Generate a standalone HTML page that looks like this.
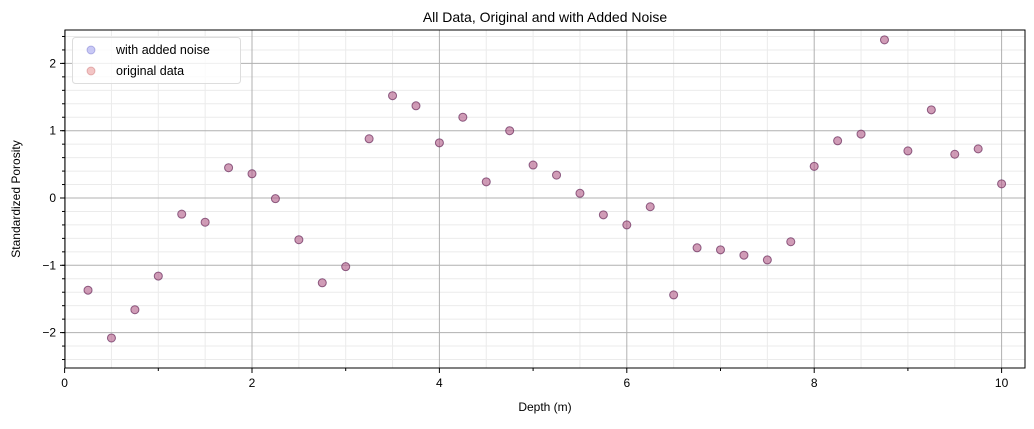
<!DOCTYPE html>
<html><head><meta charset="utf-8"><style>
body{margin:0;background:#fff;font-family:"Liberation Sans","DejaVu Sans",sans-serif}
</style></head><body>
<svg id="c" width="1034" height="424" xmlns="http://www.w3.org/2000/svg"></svg>
<script>
const depths=[0.25,0.5,0.75,1,1.25,1.5,1.75,2,2.25,2.5,2.75,3,3.25,3.5,3.75,4,4.25,4.5,4.75,5,5.25,5.5,5.75,6,6.25,6.5,6.75,7,7.25,7.5,7.75,8,8.25,8.5,8.75,9,9.25,9.5,9.75,10];
const noisy=[-1.37,-2.08,-1.66,-1.16,-0.24,-0.36,0.45,0.36,-0.01,-0.62,-1.26,-1.02,0.88,1.52,1.37,0.82,1.2,0.24,1.0,0.49,0.34,0.07,-0.25,-0.4,-0.13,-1.44,-0.74,-0.77,-0.85,-0.92,-0.65,0.47,0.85,0.95,2.35,0.7,1.31,0.65,0.73,0.21];
const original=noisy.slice();
const xTicks=[0,2,4,6,8,10];
const yTicks=[-2,-1,0,1,2];
const NS="http://www.w3.org/2000/svg",svg=document.getElementById('c');
const L=65,R=1025,T=30,B=368;
const X=v=>64.6+v*93.7, Y=v=>198-v*67.3;
function el(t,a,p){const e=document.createElementNS(NS,t);for(const k in a)e.setAttribute(k,a[k]);(p||svg).appendChild(e);return e;}
const g=el('g',{});
for(let v=0.5;v<10.3;v+=0.5){if(Math.abs(v%2)<1e-6)continue;el('line',{x1:X(v),x2:X(v),y1:T,y2:B,stroke:'#ebebeb','stroke-width':1},g);}
for(let v=-2.4;v<2.5;v+=0.2){if(Math.abs(Math.round(v)-v)<1e-6)continue;el('line',{x1:L,x2:R,y1:Y(v),y2:Y(v),stroke:'#ebebeb','stroke-width':1},g);}
xTicks.forEach(v=>el('line',{x1:X(v),x2:X(v),y1:T,y2:B,stroke:'#b0b0b0','stroke-width':1},g));
yTicks.forEach(v=>el('line',{x1:L,x2:R,y1:Y(v),y2:Y(v),stroke:'#b0b0b0','stroke-width':1},g));
// ticks
for(let v=1;v<10.3;v+=2){el('line',{x1:X(v),x2:X(v),y1:B,y2:B+3,stroke:'#000'});}
for(let v=-2.4;v<2.5;v+=0.2){el('line',{x1:L,x2:L-3,y1:Y(v),y2:Y(v),stroke:'#000'});}
xTicks.forEach(v=>{el('line',{x1:X(v),x2:X(v),y1:B,y2:B+5,stroke:'#000'});const t=el('text',{x:X(v),y:B+19,'font-size':12,'text-anchor':'middle'});t.textContent=v;});
yTicks.forEach(v=>{el('line',{x1:L,x2:L-5,y1:Y(v),y2:Y(v),stroke:'#000'});const t=el('text',{x:L-9,y:Y(v)+4,'font-size':12,'text-anchor':'end'});t.textContent=v<0?'\u2212'+(-v):v;});
// points
depths.forEach((d,i)=>{const c=el('circle',{cx:X(d),cy:Y(noisy[i]),r:4,fill:'rgba(100,100,230,0.35)',stroke:'rgba(60,60,180,0.45)'});});
depths.forEach((d,i)=>{const c=el('circle',{cx:X(d),cy:Y(original[i]),r:4,fill:'rgba(220,90,90,0.4)',stroke:'rgba(120,40,60,0.5)'});});
const fr=el('rect',{x:L,y:T,width:R-L,height:B-T,fill:'none',stroke:'#000','stroke-width':1});
const ti=el('text',{x:(L+R)/2,y:22,'font-size':14,'text-anchor':'middle'});ti.textContent='All Data, Original and with Added Noise';
const xl=el('text',{x:(L+R)/2,y:411,'font-size':12,'text-anchor':'middle'});xl.textContent='Depth (m)';
const yl=el('text',{x:0,y:0,'font-size':12,'text-anchor':'middle',transform:`translate(20,${(T+B)/2}) rotate(-90)`});yl.textContent='Standardized Porosity';
const lg=el('g',{});
el('rect',{x:72.5,y:37.5,width:168,height:46,rx:3,fill:'rgba(255,255,255,0.8)',stroke:'#ddd'},lg);
el('circle',{cx:91,cy:50,r:4,fill:'rgba(100,100,230,0.35)',stroke:'rgba(60,60,180,0.3)'},lg);
el('circle',{cx:91,cy:71,r:4,fill:'rgba(220,90,90,0.35)',stroke:'rgba(180,60,60,0.3)'},lg);
let t1=el('text',{x:116,y:54,'font-size':12.5},lg);t1.textContent='with added noise';
let t2=el('text',{x:116,y:75,'font-size':12.5},lg);t2.textContent='original data';
</script></body></html>
